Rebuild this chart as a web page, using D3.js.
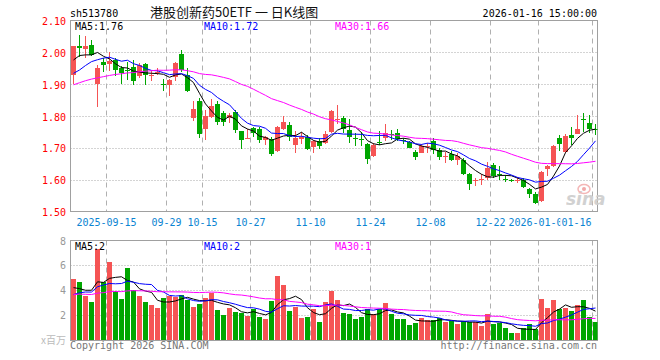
<!DOCTYPE html>
<html><head><meta charset="utf-8">
<script src="https://cdn.jsdelivr.net/npm/d3@7"></script>
<style>body{margin:0;background:#fff}svg{display:block}</style>
</head><body><svg id="c" width="660" height="360"></svg>
<script>
// ---- data ----
const open  = [1.93,2.02,2.012,2.023,1.90,1.97,1.962,1.975,1.95,1.946,1.955,1.927,1.963,1.925,1.935,1.902,1.898,1.921,1.995,1.928,
  1.795,1.848,1.758,1.797,1.838,1.81,1.794,1.812,1.752,1.728,1.762,1.759,1.726,1.728,1.69,1.759,1.772,1.71,1.727,1.734,
  1.703,1.722,1.714,1.75,1.788,1.794,1.757,1.73,1.729,1.713,1.673,1.718,1.73,1.742,1.747,1.725,1.717,1.6875,1.685,1.703,
  1.723,1.692,1.672,1.681,1.662,1.662,1.619,1.598,1.601,1.605,1.645,1.617,1.602,1.599,1.598,1.598,1.57,1.556,1.533,1.634,
  1.644,1.73,1.688,1.741,1.745,1.79,1.777,1.758];
const high  = [2.02,2.055,2.05,2.04,1.96,1.983,2.00,1.983,1.958,1.97,1.975,1.967,1.965,1.94,1.951,1.917,1.915,1.971,2.007,1.95,
  1.848,1.855,1.82,1.854,1.847,1.817,1.81,1.82,1.753,1.76,1.767,1.766,1.738,1.734,1.77,1.80,1.78,1.752,1.75,1.74,
  1.726,1.73,1.752,1.82,1.835,1.80,1.79,1.747,1.75,1.715,1.715,1.752,1.775,1.757,1.758,1.732,1.723,1.694,1.7125,1.715,
  1.73,1.699,1.686,1.69,1.683,1.667,1.62,1.605,1.619,1.657,1.653,1.642,1.615,1.603,1.607,1.604,1.574,1.562,1.628,1.646,
  1.71,1.74,1.745,1.767,1.804,1.81,1.804,1.776];
const low   = [1.90,1.985,1.983,1.99,1.827,1.937,1.94,1.927,1.90,1.913,1.898,1.918,1.897,1.91,1.928,1.877,1.863,1.91,1.938,1.876,
  1.784,1.731,1.724,1.795,1.772,1.769,1.778,1.746,1.695,1.727,1.735,1.716,1.71,1.674,1.688,1.755,1.72,1.685,1.713,1.692,
  1.683,1.697,1.711,1.748,1.776,1.747,1.715,1.705,1.707,1.648,1.671,1.71,1.72,1.725,1.72,1.712,1.698,1.662,1.683,1.685,
  1.681,1.662,1.652,1.66,1.647,1.615,1.567,1.579,1.584,1.60,1.605,1.60,1.594,1.593,1.59,1.574,1.542,1.522,1.53,1.61,
  1.64,1.69,1.685,1.71,1.743,1.75,1.747,1.74];
const close = [2.02,2.015,2.02,1.993,1.95,1.96,1.974,1.943,1.934,1.943,1.911,1.96,1.929,1.928,1.938,1.90,1.913,1.966,1.943,1.88,
  1.823,1.744,1.80,1.832,1.78,1.78,1.804,1.755,1.726,1.731,1.747,1.725,1.734,1.682,1.764,1.781,1.735,1.73,1.735,1.697,
  1.72,1.707,1.744,1.817,1.79,1.758,1.733,1.728,1.728,1.665,1.71,1.716,1.746,1.74,1.727,1.722,1.701,1.672,1.707,1.705,
  1.692,1.671,1.674,1.662,1.675,1.619,1.5875,1.60,1.603,1.636,1.613,1.615,1.60,1.597,1.60,1.576,1.554,1.528,1.625,1.642,
  1.707,1.713,1.738,1.731,1.76,1.787,1.76,1.756];
const volume = [4.88,4.64,3.55,3.04,7.28,4.64,6.27,3.95,3.28,5.76,4.05,3.52,3.04,2.8,2.56,3.36,3.52,3.47,3.6,3.2,
  2.64,2.93,3.41,3.76,2.4,2.0,2.56,2.24,2.16,1.95,2.48,1.84,1.68,3.12,5.12,4.4,2.32,2.64,1.76,1.84,
  2.48,1.44,3.04,3.95,3.23,2.16,2.08,1.68,1.84,2.48,2.08,2.48,2.96,2.08,1.68,1.68,1.2,1.36,1.76,1.6,
  1.6,1.76,1.44,1.52,1.28,1.52,1.44,1.44,1.12,2.08,1.28,1.36,0.96,0.56,0.56,0.96,1.28,0.88,3.28,2.56,
  3.23,2.48,2.56,2.32,2.8,3.2,1.84,1.44];
// sessions before the visible window (estimated so the averages start where the picture shows)
const priorClose = [1.82,1.83,1.84,1.83,1.85,1.86,1.85,1.87,1.86,1.88,1.87,1.89,1.88,1.89,1.91,1.90,
  1.93,1.95,1.96,1.93,1.91,1.88,1.87,1.89,1.91,1.945,2.01,1.993,1.912];
const priorVolume = [3.5,3.9,3.6,4.0,3.4,3.8,3.7,3.6,3.91,3.5,3.8,3.4,3.7,3.6,3.3,3.9,3.5,3.7,3.6,3.59,
  3.2,2.9,3.1,3.0,3.25,5.04,4.2,3.04,3.89];
const tickIndex  = [6,16,22,30,40,50,60,70,78,87];
const tickLabels = ["2025-09-15","09-29","10-15","10-27","11-10","11-24","12-08","12-22","2026-01-05","01-16"];
const priceTicks = [1.5,1.6,1.7,1.8,1.9,2.0,2.1];
const volTicks   = [2,4,6,8];
const maPeriods  = [5,10,30];

// ---- drawing ----
const svg = d3.select("#c");
const RED="#f55454", GREEN="#00a600", MACOL=["#000000","#0000ff","#ff00ff"];
const MONO="'DejaVu Sans Mono', monospace";
const N = close.length;
const L=70.5, R=597.5;
const x = d3.scaleBand().domain(d3.range(N)).range([L, R]).paddingInner(1/6).paddingOuter(0);
const yP = d3.scaleLinear().domain([1.5,2.1]).range([211.5,20.5]);
const yV = d3.scaleLinear().domain([0,8]).range([340,240.5]);

function ma(series, prior, n){
  const all = prior.concat(series), off = prior.length;
  return series.map((_,i)=>{ const k=off+i; return d3.mean(all.slice(k-n+1,k+1)); });
}
const priceMA = maPeriods.map(n=>ma(close, priorClose, n));
const volMA   = maPeriods.map(n=>ma(volume, priorVolume, n));

svg.append("defs").call(d=>{
  d.append("clipPath").attr("id","cp").append("rect").attr("x",L).attr("y",20.5).attr("width",R-L).attr("height",191);
  d.append("clipPath").attr("id","cv").append("rect").attr("x",L).attr("y",240.5).attr("width",R-L).attr("height",99.5);
});

function grid(yScale, ticks, top, bottom){
  const g = svg.append("g");
  g.selectAll(".h").data(ticks).join("line")
    .attr("x1",L).attr("x2",R).attr("y1",d=>Math.round(yScale(d))+0.5).attr("y2",d=>Math.round(yScale(d))+0.5)
    .attr("stroke","#a8a8a8").attr("stroke-dasharray","1,2");
  g.selectAll(".v").data(tickIndex).join("line")
    .attr("x1",d=>x(d)).attr("x2",d=>x(d)).attr("y1",top).attr("y2",bottom)
    .attr("stroke","#b0b0b0").attr("stroke-dasharray","5,4");
  g.append("rect").attr("x",L).attr("y",top).attr("width",R-L).attr("height",bottom-top)
    .attr("fill","none").attr("stroke","#a0a0a0");
}
grid(yP, priceTicks.slice(1,-1), 20.5, 211.5);
grid(yV, volTicks.slice(0,-1), 240.5, 340.5);

// watermark
const wm = svg.append("g").attr("opacity",0.9);
wm.append("text").attr("x",566).attr("y",205).attr("font-family","'DejaVu Sans', sans-serif")
  .attr("font-size",17).attr("font-weight","bold").attr("font-style","italic").attr("fill","#cdcdcd").text("sina");
wm.append("ellipse").attr("cx",584).attr("cy",189).attr("rx",6).attr("ry",4.5).attr("fill","none").attr("stroke","#f3b0b0").attr("stroke-width",1.5);
wm.append("circle").attr("cx",584).attr("cy",189).attr("r",2).attr("fill","#f0a0a0");

// candles
const up = i => close[i] >= open[i];
const cg = svg.append("g").attr("clip-path","url(#cp)").attr("shape-rendering","crispEdges");
cg.selectAll(".w").data(d3.range(N)).join("rect")
  .attr("x",i=>x(i)+2.5).attr("width",1)
  .attr("y",i=>Math.round(yP(high[i]))).attr("height",i=>Math.max(1,Math.round(yP(low[i]))-Math.round(yP(high[i]))))
  .attr("fill",i=>up(i)?RED:GREEN);
cg.selectAll(".b").data(d3.range(N)).join("rect")
  .attr("x",i=>x(i)+0.5).attr("width",x.bandwidth())
  .attr("y",i=>Math.round(yP(Math.max(open[i],close[i]))))
  .attr("height",i=>Math.max(1,Math.round(yP(Math.min(open[i],close[i])))-Math.round(yP(Math.max(open[i],close[i])))))
  .attr("fill",i=>up(i)?RED:GREEN);

// volume bars
const vg = svg.append("g").attr("clip-path","url(#cv)").attr("shape-rendering","crispEdges");
vg.selectAll("rect").data(d3.range(N)).join("rect")
  .attr("x",i=>x(i)+0.5).attr("width",x.bandwidth())
  .attr("y",i=>Math.round(yV(volume[i]))).attr("height",i=>340-Math.round(yV(volume[i])))
  .attr("fill",i=>up(i)?RED:GREEN);

// MA lines
function maLines(series, yScale, clip){
  const g = svg.append("g").attr("clip-path",clip);
  series.forEach((s,k)=>{
    g.append("path").datum(s)
      .attr("d", d3.line().x((d,i)=>x(i)+3).y(d=>yScale(d)))
      .attr("fill","none").attr("stroke",MACOL[k]).attr("stroke-width",1);
  });
}
maLines(priceMA, yP, "url(#cp)");
maLines(volMA, yV, "url(#cv)");

// axes labels
const txt = (xx,yy,s,fill,anchor,size,fam)=>svg.append("text").attr("x",xx).attr("y",yy).text(s)
  .attr("fill",fill).attr("text-anchor",anchor||"start").attr("font-size",size||10).attr("font-family",fam||MONO);
priceTicks.forEach(t=>txt(66, yP(t)+4.5, t.toFixed(2), "#ff0000", "end"));
volTicks.forEach(t=>txt(66, yV(t)+4, String(t), "#999999", "end"));
txt(66, 344, "x百万", "#bbbbbb", "end", 10, "'Noto Sans CJK SC', sans-serif");

// date ticks
const xa = svg.append("g");
tickIndex.forEach((ti,k)=>{
  const last = k===tickIndex.length-1;
  const w = tickLabels[k].length*6.02;
  let cx = x(ti);
  if (last) cx = R - 6 - w/2;
  if (last) xa.append("rect").attr("x",cx-w/2-1).attr("y",215).attr("width",w+2).attr("height",12).attr("fill","#fff");
  xa.append("text").attr("x",cx).attr("y",225.5).attr("text-anchor","middle")
    .attr("font-family",MONO).attr("font-size",10).attr("fill","#0b84d2").text(tickLabels[k]);
});

// legends
const lastP = priceMA.map(s=>s[N-1]), lastV = volMA.map(s=>s[N-1]);
const legX = [75,204,335];
maPeriods.forEach((n,k)=>{
  txt(legX[k], 30, `MA${n}:${lastP[k].toFixed(2)}`, MACOL[k]);
  txt(legX[k], 249.5, `MA${n}:${Math.floor(lastV[k])}`, MACOL[k]);
});

// header / footer
txt(70, 16.5, "sh513780", "#000");
txt(150, 17, "港股创新药50ETF 一 日K线图", "#111", "start", 13, "'Noto Sans CJK SC', sans-serif");
txt(597, 16.5, "2026-01-16 15:00:00", "#000", "end");
txt(70, 349, "Copyright 2026 SINA.COM", "#777777");
txt(597, 349, "http://finance.sina.com.cn", "#777777", "end");
</script></body></html>
